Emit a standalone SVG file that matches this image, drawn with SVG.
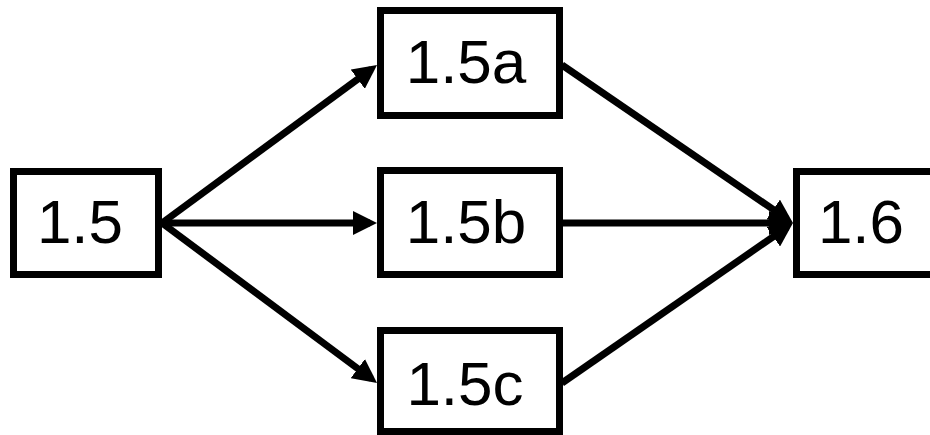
<svg xmlns="http://www.w3.org/2000/svg" width="930" height="435" viewBox="0 0 930 435">
  <style>
    .box { fill: #fff; stroke: #000; stroke-width: 7; }
    .label { font-family: "Liberation Sans", Arial, sans-serif; font-size: 62px; fill: #000; text-anchor: middle; }
    .edge { fill: none; stroke: #000; stroke-width: 7; marker-end: url(#head); }
  </style>
  <defs>
    <!-- filled triangular arrowhead; the line stops where the head is as wide as the stroke -->
    <marker id="head" markerUnits="userSpaceOnUse" markerWidth="24" markerHeight="24" refX="17" refY="12" orient="auto">
      <path d="M0,0 L24,12 L0,24 z" fill="#000"/>
    </marker>
  </defs>
  <rect width="930" height="435" fill="#fff"/>

  <g id="connectors">
    <line class="edge" x1="162" y1="223" x2="371.4" y2="69.1"/>
    <line class="edge" x1="162" y1="223" x2="370" y2="223"/>
    <line class="edge" x1="162" y1="223" x2="371.4" y2="378.8"/>
    <line class="edge" x1="562" y1="65" x2="787.2" y2="219.1"/>
    <line class="edge" x1="563" y1="223" x2="786" y2="223"/>
    <line class="edge" x1="562" y1="383" x2="787.2" y2="227"/>
  </g>

  <g id="n1_5">
    <rect class="box" x="13.5" y="171.5" width="145" height="103"/>
    <text class="label" x="80" y="243">1.5</text>
  </g>
  <g id="n1_5a">
    <rect class="box" x="380.5" y="10.5" width="179" height="105"/>
    <text class="label" x="466" y="83">1.5a</text>
  </g>
  <g id="n1_5b">
    <rect class="box" x="380.5" y="170.5" width="179" height="104"/>
    <text class="label" x="466" y="243">1.5b</text>
  </g>
  <g id="n1_5c">
    <rect class="box" x="380.5" y="330.5" width="179" height="101"/>
    <text class="label" x="465" y="405">1.5c</text>
  </g>
  <g id="n1_6">
    <rect class="box" x="796.5" y="171.5" width="145" height="103"/>
    <text class="label" x="861" y="243">1.6</text>
  </g>
</svg>
